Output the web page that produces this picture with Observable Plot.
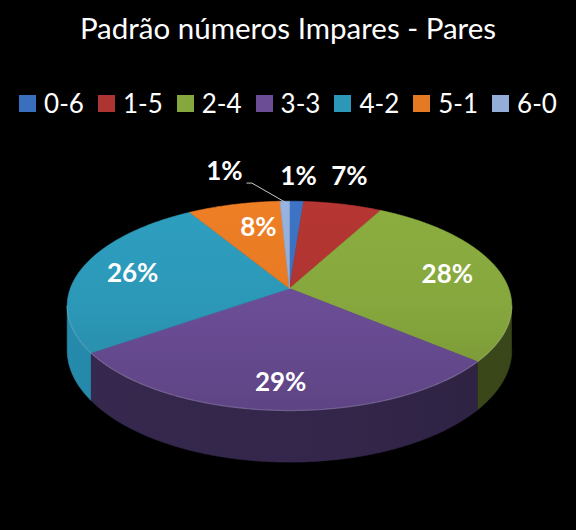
<!DOCTYPE html>
<html><head><meta charset="utf-8">
<script src="https://cdn.jsdelivr.net/npm/d3@7"></script>
<script src="https://cdn.jsdelivr.net/npm/@observablehq/plot@0.6"></script>
<style>
html,body{margin:0;padding:0;background:#000;}
#root{position:relative;width:576px;height:530px;background:#000;overflow:hidden;font-family:Lato,"Open Sans",sans-serif;}
#title{position:absolute;left:0;top:13px;width:576px;text-align:center;color:#fff;font-size:29.5px;line-height:29.5px;white-space:nowrap;}
#legend{position:absolute;left:0;top:83px;width:576px;height:40px;}
#legend .lg-swatches{display:flex;justify-content:center;align-items:center;height:40px;margin:0;font-family:Lato,sans-serif;font-size:26px;color:#fff;line-height:1;}
#legend .lg-swatch{margin-right:14px;}
#legend .lg-swatch:last-child{margin-right:0;}
#legend .lg-swatch > svg{margin-right:8px;}
#chart{position:absolute;left:0;top:130px;}
</style></head>
<body>
<div id="root">
  <div id="title">Padrão números Impares - Pares</div>
  <div id="legend"></div>
  <div id="chart"></div>
</div>
<script>
// ---- data ----
const categories = ["0-6","1-5","2-4","3-3","4-2","5-1","6-0"];
const values = [1.2, 6.7, 28.2, 29.2, 26.0, 7.9, 0.8];
const labels = ["1%","7%","28%","29%","26%","8%","1%"];

// ---- style ----
const topColors  = ["#3A6FBE","#AE3431","#86A73D","#6B4D96","#2C98B8","#E57A23","#93ACD8"];
const wallColors = ["#24477a","#6e2220","#3F4E1C","#33264A","#2383A2","#8c4814","#5b6f92"];

// ---- layout (3D projection) ----
const cx = 289, cy = 288, a = 219.2, b = 101.8, k = 0.166, H = 43;
const T = 130; // svg top offset in page
function proj(deg, r) {
  const t = deg * Math.PI / 180;
  const X = r * Math.sin(t), Z = r * Math.cos(t), w = 1 + k * Z;
  return {x: cx + a * X / w, y: cy - b * Z / w, w};
}
// label placement per slice: radius and optional angle override
const labelRadius = [1.34, 1.38, 0.75, 0.8, 0.75, 0.68, 1.466];
const labelAngle  = [null, 14, null, null, null, 346.6, -14.5];

const arcs = d3.pie().sort(null).value(d => d)(values);
const deg = r => r * 180 / Math.PI;
const visLo = deg(Math.acos(-k)), visHi = 360 - visLo;

const rows = [];
function addPoly(id, color, pts) { pts.forEach(p => rows.push({id, x: p.x, y: p.y, color})); }
function edge(t0, t1, r, dy) {
  const n = Math.max(2, Math.ceil(Math.abs(t1 - t0) / 0.5));
  const out = [];
  for (let i = 0; i <= n; i++) {
    const t = t0 + (t1 - t0) * i / n;
    const p = proj(t, r);
    out.push({x: p.x, y: p.y + (dy ? H / p.w : 0)});
  }
  return out;
}
// walls (front, visible part)
arcs.forEach((d, i) => {
  const s = Math.max(deg(d.startAngle), visLo), e = Math.min(deg(d.endAngle), visHi);
  if (e > s) {
    addPoly("wall" + i, `url(#gw${i})`, [...edge(s, e, 1, false), ...edge(e, s, 1, true)]);
  }
});
// tops
arcs.forEach((d, i) => {
  const c = proj(0, 0);
  addPoly("top" + i, `url(#gt${i})`, [{x: c.x, y: c.y}, ...edge(deg(d.startAngle), deg(d.endAngle), 1, false), {x: c.x, y: c.y}]);
});
const rim = edge(visLo, visHi, 1, false);

const labelRows = arcs.map((d, i) => {
  const mid = labelAngle[i] != null ? labelAngle[i] : deg((d.startAngle + d.endAngle) / 2);
  const p = proj(mid, labelRadius[i]);
  return {x: p.x, y: p.y, text: labels[i]};
});
// leader line for the last small slice
const lastArc = arcs[6];
const lp = labelRows[6];
const tip = proj(deg((lastArc.startAngle + lastArc.endAngle) / 2), 0.99);
const leader = [
  {x: lp.x + 22.5, y: lp.y + 11.5},
  {x: lp.x + 27.5, y: lp.y + 11.5},
  {x: tip.x, y: tip.y}
];

const chart = Plot.plot({
  width: 576, height: 400,
  margin: 0,
  style: {background: "transparent", overflow: "visible"},
  x: {domain: [0, 576], range: [0, 576], axis: null},
  y: {domain: [T, 530], range: [0, 400], axis: null},
  marks: [
    Plot.line(rows, {x: "x", y: "y", z: "id", fill: "color", stroke: "color", strokeWidth: 0.6, curve: "linear"}),
    Plot.line(rim, {x: "x", y: "y", stroke: "#ffffff", strokeOpacity: 0.18, strokeWidth: 1.2}),
    Plot.line(leader, {x: "x", y: "y", stroke: "#c8c8c8", strokeWidth: 1}),
    Plot.text(labelRows, {x: "x", y: "y", text: "text", fill: "white", fontSize: 26, fontWeight: "bold",
      fontFamily: "Lato, 'Open Sans', sans-serif", textAnchor: "middle", lineAnchor: "middle"})
  ]
});
// gradient definitions (shading of the 3D faces)
const defs = d3.select(chart).insert("defs", ":first-child");
topColors.forEach((c, i) => {
  const g = defs.append("linearGradient").attr("id", `gt${i}`).attr("gradientUnits", "userSpaceOnUse")
    .attr("x1", 0).attr("y1", 195 - T).attr("x2", 0).attr("y2", 412 - T);
  g.append("stop").attr("offset", 0).attr("stop-color", d3.color(c).brighter(0.12).formatHex());
  g.append("stop").attr("offset", 0.5).attr("stop-color", c);
  g.append("stop").attr("offset", 1).attr("stop-color", d3.color(c).darker(0.35).formatHex());
});
wallColors.forEach((c, i) => {
  const g = defs.append("linearGradient").attr("id", `gw${i}`).attr("gradientUnits", "userSpaceOnUse")
    .attr("x1", 66).attr("y1", 0).attr("x2", 512).attr("y2", 0);
  g.append("stop").attr("offset", 0).attr("stop-color", d3.color(c).brighter(0.15).formatHex());
  g.append("stop").attr("offset", 0.6).attr("stop-color", c);
  g.append("stop").attr("offset", 1).attr("stop-color", d3.color(c).darker(0.3).formatHex());
});
document.getElementById("chart").appendChild(chart);

const legend = Plot.legend({
  color: {type: "ordinal", domain: categories, range: topColors},
  legend: "swatches",
  swatchSize: 17,
  className: "lg"
});
document.getElementById("legend").appendChild(legend);
</script>
</body></html>
